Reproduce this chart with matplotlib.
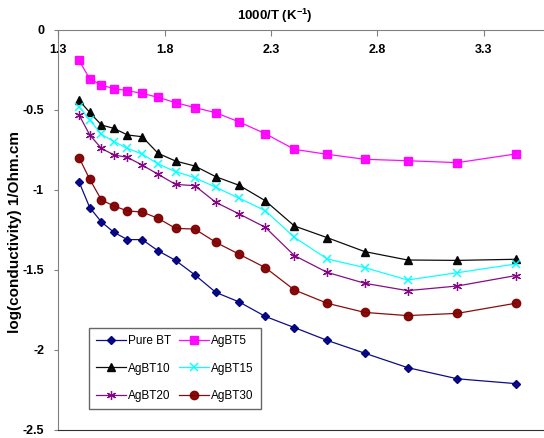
import matplotlib
matplotlib.use("Agg")
import matplotlib.pyplot as plt

plt.rcParams['font.family'] = ['Liberation Sans', 'DejaVu Sans']
plt.rcParams['mathtext.fontset'] = 'custom'
plt.rcParams['mathtext.rm'] = 'Liberation Sans'
plt.rcParams['mathtext.bf'] = 'Liberation Sans:bold'

# inverse temperature, 1000/T (K^-1)
inv_T = [1.399, 1.449, 1.504, 1.563, 1.626, 1.695, 1.770, 1.852, 1.942,
         2.041, 2.151, 2.273, 2.410, 2.564, 2.740, 2.941, 3.175, 3.448]

pure_bt = [-0.95, -1.11, -1.20, -1.265, -1.31, -1.31, -1.38, -1.44, -1.53,
           -1.64, -1.70, -1.79, -1.86, -1.94, -2.02, -2.11, -2.18, -2.21]
agbt5 = [-0.19, -0.306, -0.344, -0.367, -0.379, -0.396, -0.421, -0.454, -0.485,
         -0.517, -0.575, -0.648, -0.746, -0.777, -0.808, -0.817, -0.829, -0.775]
agbt10 = [-0.44, -0.515, -0.594, -0.615, -0.656, -0.667, -0.771, -0.819, -0.85,
          -0.917, -0.971, -1.067, -1.225, -1.298, -1.385, -1.4375, -1.44, -1.433]
agbt15 = [-0.479, -0.5625, -0.652, -0.698, -0.74, -0.775, -0.8375, -0.885, -0.923,
          -0.983, -1.052, -1.129, -1.296, -1.431, -1.485, -1.5625, -1.517, -1.4625]
agbt20 = [-0.531, -0.656, -0.74, -0.781, -0.796, -0.844, -0.902, -0.965, -0.973,
          -1.077, -1.15, -1.233, -1.41, -1.515, -1.583, -1.629, -1.60, -1.535]
agbt30 = [-0.798, -0.933, -1.0625, -1.10, -1.131, -1.1375, -1.177, -1.24, -1.244,
          -1.327, -1.402, -1.485, -1.625, -1.708, -1.765, -1.785, -1.771, -1.708]

series_names = ["Pure BT", "AgBT5", "AgBT10", "AgBT15", "AgBT20", "AgBT30"]
x_ticks = [1.3, 1.8, 2.3, 2.8, 3.3]
y_ticks = [0, -0.5, -1, -1.5, -2, -2.5]

styles = [
    dict(color="#000080", marker="D", ms=4),
    dict(color="#FF00FF", marker="s", ms=5.5),
    dict(color="#000000", marker="^", ms=6),
    dict(color="#00FFFF", marker="x", ms=5.5, mew=1.1),
    dict(color="#800080", marker=(6, 2, 0), ms=6.5, mew=0.9),
    dict(color="#800000", marker="o", ms=6),
]

fig = plt.figure(figsize=(5.44, 4.38), dpi=100)
W, H = 544, 438
left, right, top, bottom = 58, 544, 30, 430
ax = fig.add_axes([left / W, 1 - bottom / H, (right - left) / W, (bottom - top) / H])

x_max = 1.3 + (right - left) / 213.0
ax.set_xlim(1.3, x_max)
ax.set_ylim(-2.5, 0)

handles = []
for name, ys, st in zip(series_names,
                        [pure_bt, agbt5, agbt10, agbt15, agbt20, agbt30], styles):
    h, = ax.plot(inv_T, ys, color=st["color"], lw=0.9, marker=st["marker"],
                 ms=st["ms"], mew=st.get("mew", 1.0), mfc=st["color"], mec=st["color"],
                 label=name, alpha=0.95)
    handles.append(h)

# x axis drawn along the top (y = 0), labels just below it
ax.spines['right'].set_visible(False)
ax.spines['top'].set_color("#808080")
ax.spines['left'].set_color("#808080")
ax.spines['bottom'].set_color("#303030")
ax.xaxis.set_ticks_position('top')
ax.set_xticks(x_ticks)
ax.set_xticklabels([f"{v:.1f}" for v in x_ticks], fontsize=9, fontweight='bold')
ax.tick_params(axis='x', direction='in', length=4, color="#808080",
               pad=-19, labeltop=True, labelbottom=False)
ax.set_yticks(y_ticks)
ax.set_yticklabels([f"{v:g}" for v in y_ticks], fontsize=9, fontweight='bold')
ax.tick_params(axis='y', direction='out', length=3, color="#808080", pad=7)

fig.text(275 / W, 1 - 16 / H, "1000/T (K$^{\\mathbf{-1}}$)", ha='center', va='center',
         fontsize=9.5, fontweight='bold')
fig.text(15 / W, 1 - 232 / H, "log(conductivity) 1/Ohm.cm", ha='center', va='center',
         rotation=90, fontsize=11, fontweight='bold')

# legend entries laid out row by row in two columns
order = [0, 2, 4, 1, 3, 5]
leg = ax.legend([handles[i] for i in order], [series_names[i] for i in order],
                ncol=2, loc='lower left',
                bbox_to_anchor=((89 - left) / (right - left), (bottom - 409) / (bottom - top)),
                fontsize=8.5, frameon=True, fancybox=False, handlelength=2.5,
                columnspacing=0.7, labelspacing=1.3, borderpad=0.6, handletextpad=0.2,
                borderaxespad=0)
leg.get_frame().set_edgecolor("#404040")
leg.get_frame().set_linewidth(1.0)

fig.savefig("out.png", dpi=100)
